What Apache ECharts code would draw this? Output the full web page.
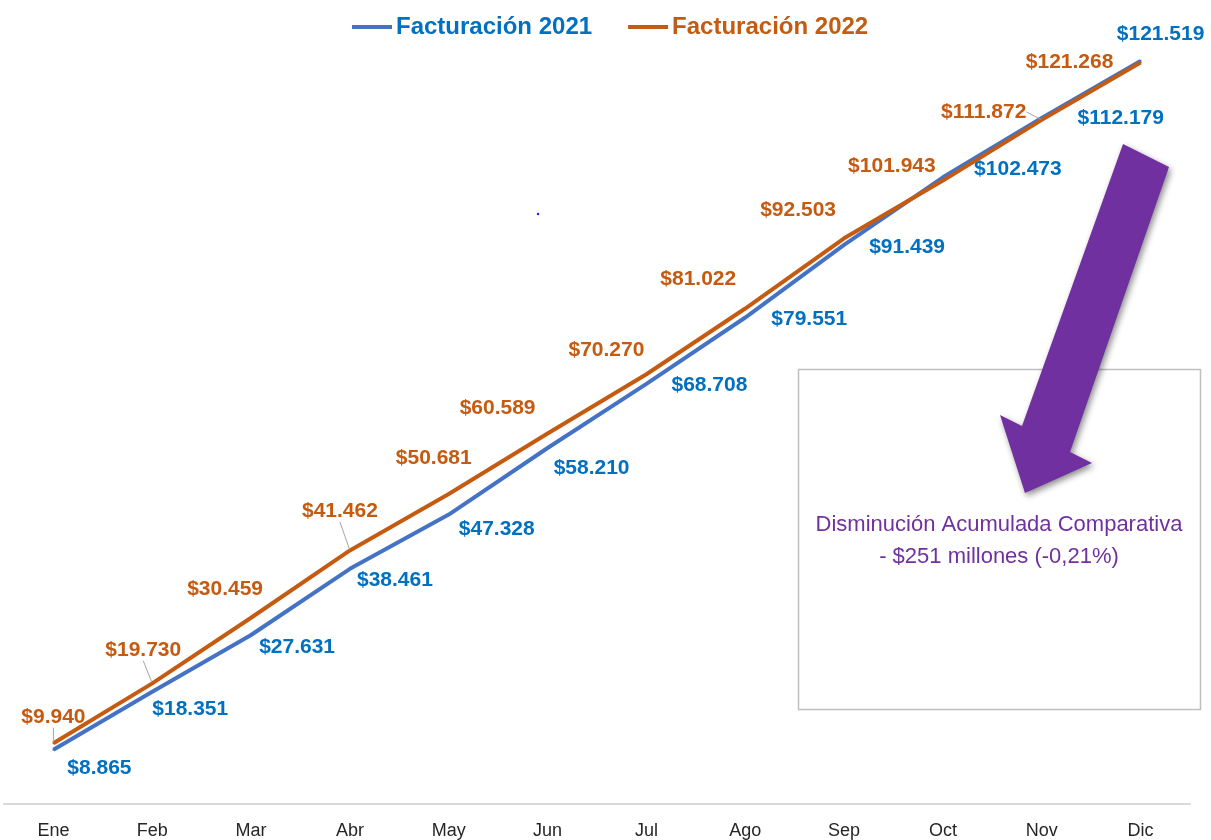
<!DOCTYPE html>
<html>
<head>
<meta charset="utf-8">
<script src="https://cdn.jsdelivr.net/npm/echarts@6/dist/echarts.min.js"></script>
<style>html,body{margin:0;padding:0;background:#fff}#c{width:1211px;height:840px}</style>
</head>
<body>
<div id="c"></div>
<script>
const months = ['Ene','Feb','Mar','Abr','May','Jun','Jul','Ago','Sep','Oct','Nov','Dic'];
const fact2021 = [8865, 18351, 27631, 38461, 47328, 58210, 68708, 79551, 91439, 102473, 112179, 121519];
const fact2022 = [9940, 19730, 30459, 41462, 50681, 60589, 70270, 81022, 92503, 101943, 111872, 121268];
const seriesNames = ['Facturación 2021', 'Facturación 2022'];
const noteText = 'Disminución Acumulada Comparativa\n- $251 millones (-0,21%)';

// label layout (offsets from each point, px) and which labels get a leader line
const off2021 = [[46,18],[38,17],[46,12],[45,11],[48,15],[44,20],[63,1],[64,2],[63,2],[75,-8],[79,0],[20,-27]];
const off2022 = [[0,-26],[-9,-33],[-26,-29],[-10,-39],[-15,-36],[-50,-25],[-40,-24],[-47,-29],[-46,-28],[-51,-14],[-58,-8],[-71,0]];
const lead2021 = [];
const lead2022 = [0, 1, 3, 10];

const fmt = v => '$' + v.toLocaleString('de-DE');
const FONT = '"Liberation Sans", Arial, sans-serif';
const C21 = '#4472C4', T21 = '#0070C0', C22 = '#C55A11', T22 = '#C55A11', PURPLE = '#7030A0';

function build(vals, offs, leads) {
  return vals.map((v, i) => ({
    value: v,
    label: { offset: offs[i], formatter: fmt(v) },
    labelLine: { show: leads.indexOf(i) >= 0, lineStyle: { color: '#a6a6a6', width: 1 } }
  }));
}

const chart = echarts.init(document.getElementById('c'), null, { renderer: 'canvas' });
chart.setOption({
  animation: false,
  backgroundColor: '#fff',
  grid: { left: 4, right: 21, top: 9, bottom: 35 },
  legend: {
    top: 10, left: 347, itemWidth: 40, itemHeight: 4, itemGap: 36,
    icon: 'rect',
    data: [
      { name: seriesNames[0], textStyle: { color: T21 } },
      { name: seriesNames[1], textStyle: { color: T22 } }
    ],
    textStyle: { fontFamily: FONT, fontWeight: 'bold', fontSize: 24, padding: [0,0,0,-1] }
  },
  xAxis: {
    type: 'category', data: months, boundaryGap: true,
    axisLine: { lineStyle: { color: '#d9d9d9', width: 2 } },
    axisTick: { show: false },
    axisLabel: { color: '#262626', fontFamily: FONT, fontSize: 18, margin: 18 }
  },
  yAxis: { type: 'value', min: 0, max: 130000, show: false, splitLine: { show: false } },
  series: [
    {
      name: seriesNames[0], type: 'line', data: build(fact2021, off2021, lead2021),
      symbol: 'circle', symbolSize: 2, z: 2,
      lineStyle: { color: C21, width: 4 }, itemStyle: { color: C21 },
      label: { show: true, position: 'inside', color: T21, fontFamily: FONT, fontWeight: 'bold', fontSize: 21 }
    },
    {
      name: seriesNames[1], type: 'line', data: build(fact2022, off2022, lead2022),
      symbol: 'circle', symbolSize: 2, z: 3,
      lineStyle: { color: C22, width: 4 }, itemStyle: { color: C22 },
      label: { show: true, position: 'inside', color: T22, fontFamily: FONT, fontWeight: 'bold', fontSize: 21 }
    }
  ],
  graphic: [
    { type: 'rect', shape: { x: 798.5, y: 369.5, width: 402, height: 340 },
      style: { fill: 'rgba(255,255,255,0)', stroke: '#bfbfbf', lineWidth: 1.5 }, z: 10 },
    { type: 'text', x: 999, y: 541,
      style: { text: noteText, fill: PURPLE, font: '22px ' + FONT, align: 'center', verticalAlign: 'middle', lineHeight: 32 }, z: 11 },
    { type: 'polygon',
      shape: { points: [[1123,144],[1169,167],[1070,452],[1092,463],[1025,493],[1000,415],[1022,426]] },
      style: { fill: PURPLE, shadowBlur: 6, shadowColor: 'rgba(0,0,0,0.45)', shadowOffsetX: 2, shadowOffsetY: 3 }, z: 12 },
    { type: 'circle', shape: { cx: 538, cy: 214, r: 1.2 }, style: { fill: '#1a1aff' }, z: 12 }
  ]
});
</script>
</body>
</html>
